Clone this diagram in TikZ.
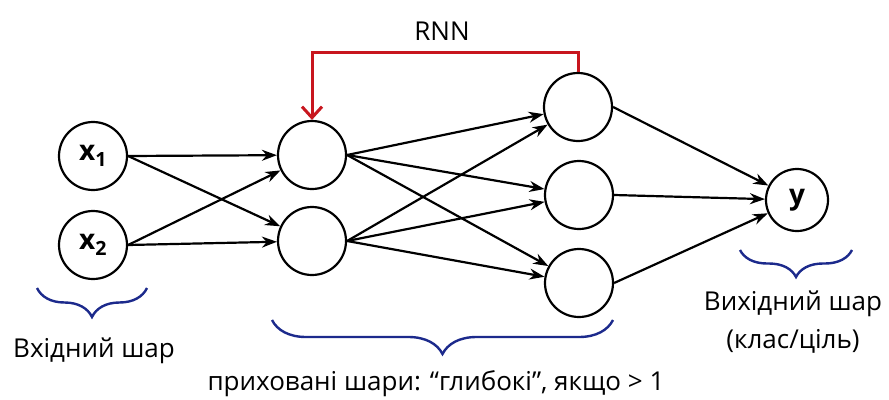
\documentclass[tikz,border=0pt]{standalone}
\usepackage{fontspec}
\setmainfont{Open Sans}
\usetikzlibrary{arrows.meta,decorations.pathreplacing}
\definecolor{rnnred}{HTML}{C8161E}
\definecolor{bracenavy}{HTML}{1C2A8C}
\begin{document}
\begin{tikzpicture}[x=1pt,y=-1pt,
  neuron/.style={circle,draw=black,line width=2.2pt,minimum size=68pt,inner sep=0pt,font=\fontsize{28}{30}\selectfont\bfseries},
  conn/.style={line width=2.2pt,-{Stealth[length=15pt,width=11pt]}},
  layerbrace/.style={draw=bracenavy,line width=2.4pt,decorate,decoration={brace,amplitude=#1}},
  caption/.style={font=\fontsize{26}{28}\selectfont,text=black,inner sep=0pt}]
\useasboundingbox (0,0) rectangle (889,399);
\fill[white] (0,0) rectangle (889,399);

% input layer
\node[neuron] (x1) at (93,156) {x$_{\mathbf 1}$};
\node[neuron] (x2) at (93,245) {x$_{\mathbf 2}$};
% first hidden layer
\node[neuron] (h1) at (312,155) {};
\node[neuron] (h2) at (312,241) {};
% second hidden layer
\node[neuron] (g1) at (578,107) {};
\node[neuron] (g2) at (579,195) {};
\node[neuron] (g3) at (579,283) {};
% output
\node[neuron,minimum size=62pt] (y) at (797,200) {y};

% connections
\foreach \a in {x1,x2}
  \foreach \b in {h1,h2}
    \draw[conn] (\a.east) -- (\b);
\foreach \a in {h1,h2}
  \foreach \b in {g1,g2,g3}
    \draw[conn] (\a.east) -- (\b);
\foreach \a in {g1,g2,g3}
  \draw[conn] (\a.east) -- (y);

% recurrent loop
\draw[rnnred,line width=3pt,-{Straight Barb[length=11pt,width=20pt,line width=3pt]}]
  (g1.north) -- (g1.north |- 0,52) -- (h1.north |- 0,52) -- (h1.north);
\node[caption] (rnn) at (442,31) {RNN};

% layer braces
\draw[layerbrace=29] (147,288) -- (37,288);
\draw[layerbrace=34] (613,320) -- (272,320);
\draw[layerbrace=27] (852,250) -- (740,250);

% layer captions
\node[caption] (inlbl) at (94,351) {Вхідний шар};
\node[caption] (hidlbl) at (436,384) {приховані шари: “глибокі”, якщо > 1};
\node[caption] (outlbl) at (793,304) {Вихідний шар};
\node[caption] (outlbl2) at (793,341) {(клас/ціль)};
\end{tikzpicture}
\end{document}
